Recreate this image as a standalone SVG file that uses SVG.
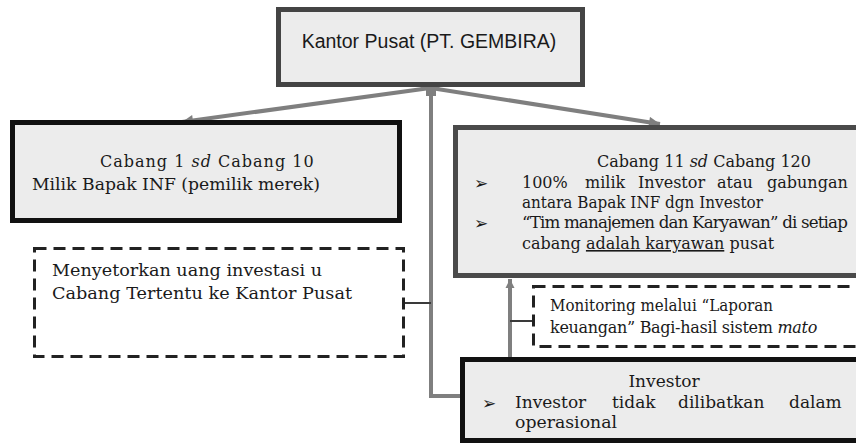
<svg xmlns="http://www.w3.org/2000/svg" width="856" height="446" viewBox="0 0 856 446">
<defs>
<marker id="ah" viewBox="0 0 10 10" refX="10" refY="5" markerWidth="13" markerHeight="11" markerUnits="userSpaceOnUse" orient="auto">
<path d="M0,0 L10,5 L0,10 z" fill="#7f7f7f"/>
</marker>
<marker id="ahv" viewBox="0 0 10 10" refX="10" refY="5" markerWidth="9" markerHeight="13" markerUnits="userSpaceOnUse" orient="auto">
<path d="M0,0 L10,5 L0,10 z" fill="#7f7f7f"/>
</marker>
</defs>
<style>
.box{fill:#ececec;stroke-width:5}
.dash{fill:none;stroke:#222;stroke-width:3;stroke-dasharray:12 7}
.serif{font-family:"DejaVu Serif","Liberation Serif",serif;font-size:16px;fill:#1a1a1a}
.big{font-size:17px}
.bul{font-family:"DejaVu Sans",sans-serif;font-size:17px;fill:#1a1a1a}
.sans{font-family:"Liberation Sans","Open Sans",sans-serif;font-size:19.5px;fill:#1a1a1a}
.conn{stroke:#7f7f7f;stroke-width:4;fill:none}
.tick{stroke:#3a3a3a;stroke-width:2;fill:none}
.it{font-style:italic}
</style>
<rect width="856" height="446" fill="#ffffff"/>
<g id="connectors">
<line class="conn" x1="430" y1="88" x2="182" y2="122" marker-end="url(#ah)"/>
<line class="conn" x1="431" y1="88" x2="660" y2="124" marker-end="url(#ah)"/>
<polyline class="conn" points="460,396 431,396 431,86"/>
<polygon points="430,80 440,88 436,88 436,96 426,96 426,88 420,88" fill="#7f7f7f"/>
<line class="conn" x1="510" y1="358" x2="510" y2="279" marker-end="url(#ahv)"/>
<line class="tick" x1="404" y1="303" x2="431" y2="303"/>
<line class="tick" x1="510" y1="321" x2="533" y2="321"/>
</g>
<g id="kantor-pusat">
<rect class="box" x="278.5" y="9.5" width="304" height="75" stroke="#444"/>
<text class="sans" x="429" y="48" text-anchor="middle">Kantor Pusat (PT. GEMBIRA)</text>
</g>
<g id="cabang-1-10">
<rect class="box" x="12.5" y="122.5" width="387" height="98" stroke="#111"/>
<text class="serif" x="100" y="167" letter-spacing="1">Cabang 1 <tspan class="it">sd</tspan> Cabang 10</text>
<text class="serif" x="32" y="190" textLength="288" lengthAdjust="spacingAndGlyphs">Milik Bapak INF (pemilik merek)</text>
</g>
<g id="cabang-11-120">
<rect class="box" x="455.5" y="127.5" width="420" height="148" stroke="#4a4a4a"/>
<text class="serif" x="597" y="167">Cabang 11 <tspan class="it">sd</tspan> Cabang 120</text>
<text class="bul" x="474" y="189">➢</text>
<text class="serif" y="188"><tspan x="522">100%</tspan><tspan x="585">milik</tspan><tspan x="638">Investor</tspan><tspan x="717">atau</tspan><tspan x="767">gabungan</tspan></text>
<text class="serif" x="522" y="208" textLength="241" lengthAdjust="spacingAndGlyphs">antara Bapak INF dgn Investor</text>
<text class="bul" x="474" y="229">➢</text>
<text class="serif" x="522" y="228" letter-spacing="-0.8" textLength="325" lengthAdjust="spacingAndGlyphs">“Tim manajemen dan Karyawan” di setiap</text>
<text class="serif" x="522" y="249">cabang <tspan text-decoration="underline">adalah karyawan</tspan> pusat</text>
</g>
<g id="menyetorkan">
<rect class="dash" x="34.5" y="248.5" width="369" height="108"/>
<text class="serif" x="52" y="276" textLength="270" lengthAdjust="spacingAndGlyphs">Menyetorkan uang investasi u</text>
<text class="serif" x="52" y="299" textLength="300" lengthAdjust="spacingAndGlyphs">Cabang Tertentu ke Kantor Pusat</text>
</g>
<g id="monitoring">
<rect class="dash" x="533.5" y="286.5" width="340" height="60"/>
<text class="serif" x="550" y="311" textLength="223" lengthAdjust="spacingAndGlyphs">Monitoring melalui “Laporan</text>
<text class="serif" x="550" y="333" letter-spacing="-0.3">keuangan” Bagi-hasil sistem <tspan class="it">mato</tspan></text>
</g>
<g id="investor">
<rect class="box" x="462.5" y="359.5" width="420" height="81" stroke="#111"/>
<text class="serif big" x="664" y="387" text-anchor="middle">Investor</text>
<text class="bul" x="482" y="409">➢</text>
<text class="serif big" y="408"><tspan x="515">Investor</tspan><tspan x="612">tidak</tspan><tspan x="678">dilibatkan</tspan><tspan x="789">dalam</tspan></text>
<text class="serif big" x="515" y="428" textLength="102" lengthAdjust="spacingAndGlyphs">operasional</text>
</g>
</svg>
